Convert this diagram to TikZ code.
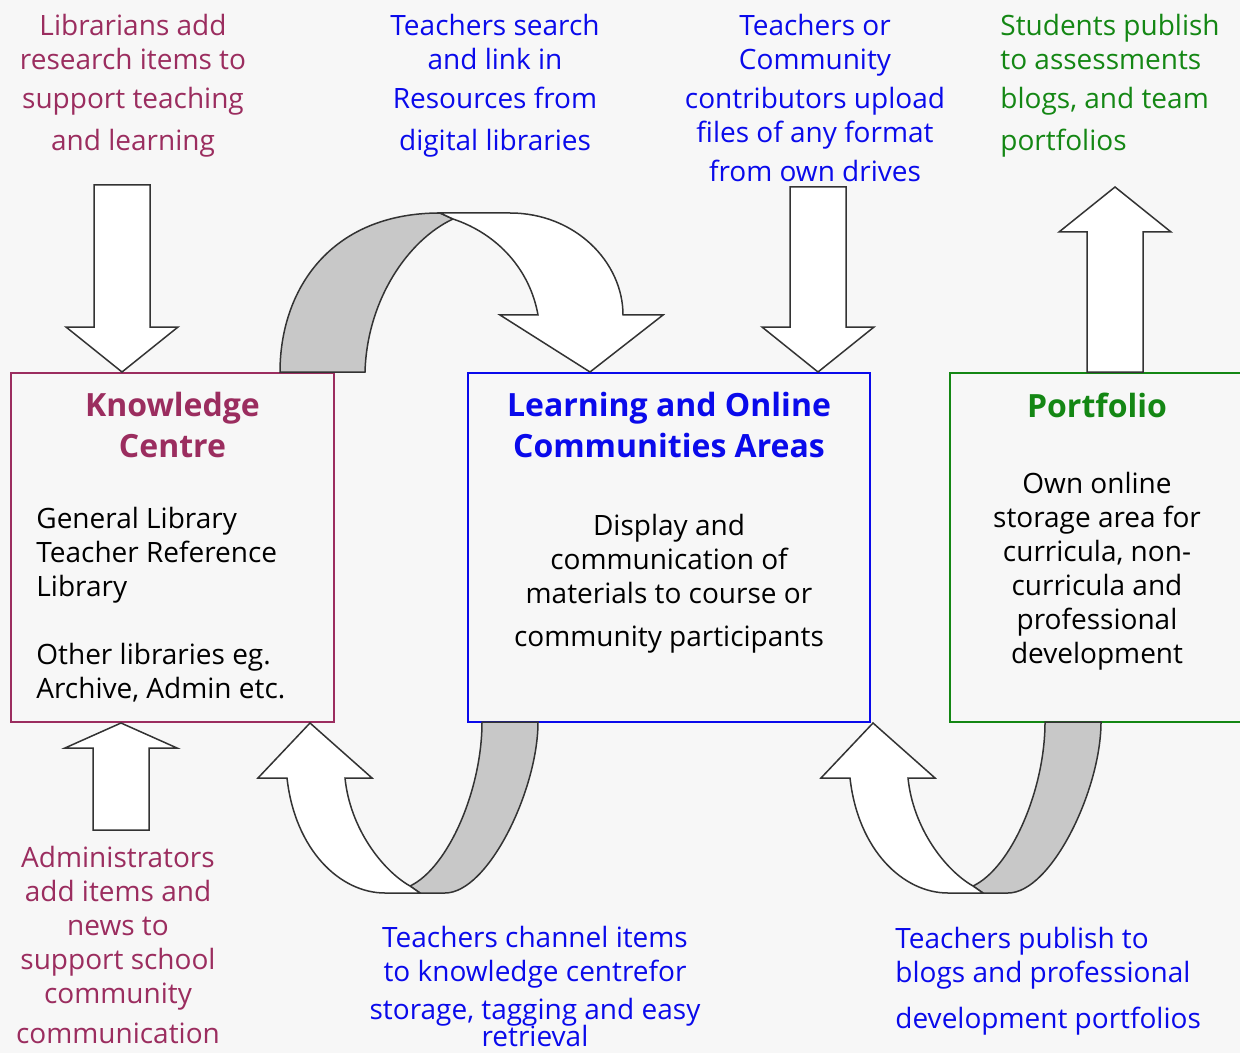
\documentclass[tikz,border=0pt]{standalone}
\usepackage{fontspec}
\setmainfont{Open Sans}
\usepackage{xcolor}
\usetikzlibrary{positioning}

\definecolor{kcmaroon}{RGB}{155,45,95}
\definecolor{areablue}{RGB}{10,10,235}
\definecolor{portgreen}{RGB}{20,135,20}
\definecolor{pagegrey}{RGB}{247,247,247}
\definecolor{bandgrey}{RGB}{200,200,200}

% straight block arrow: tip x, tip y, head base y, tail y
\newcommand{\blockarrow}[4]{%
  \draw[hollow] (#1,#2) -- (#1+56,#3) -- (#1+28,#3) -- (#1+28,#4) -- (#1-28,#4) -- (#1-28,#3) -- (#1-56,#3) -- cycle;}

\begin{document}
\begin{tikzpicture}[x=0.5pt, y=-0.5pt,
    area/.style={rectangle, draw, line width=0.8pt, fill=pagegrey, minimum height=174.5pt},
    title/.style={font=\bfseries\fontsize{16}{20.5}\selectfont, align=center, inner sep=0pt},
    body/.style={font=\fontsize{14}{17}\selectfont, inner sep=0pt},
    hollow/.style={draw=black!80, line width=0.75pt, fill=white, line join=miter},
    backface/.style={draw=black!80, line width=0.75pt, fill=bandgrey},
    returnarc/.pic={
        \draw[backface] (482,722) .. controls (482,790) and (448,868) .. (410,886) -- (420,893) -- (445,893) .. controls (488,893) and (538,790) .. (538,722) -- cycle;
        \draw[hollow] (410,886) .. controls (382,870) and (350,828) .. (345,778) -- (372,778) -- (310,723) -- (258,778) -- (287,778) .. controls (295,850) and (340,893) .. (385,893) -- (420,893) -- cycle;
    }]
    \path[use as bounding box, fill=pagegrey] (0,0) rectangle (1240,1053);

    % The three areas
    \node[area, draw=kcmaroon, minimum width=161.5pt] (kc) at (172.5,547.5) {};
    \node[area, draw=areablue, minimum width=201pt] (loc) at (669,547.5) {};
    \node[area, draw=portgreen, minimum width=150pt] (port) at (1100,547.5) {};

    \node[title, text=kcmaroon, below=10pt of kc.north] (kctitle) {Knowledge\\Centre};
    \node[title, text=areablue, below=10pt of loc.north] (loctitle) {Learning and Online\\Communities Areas};
    \node[title, text=portgreen, below=10pt of port.north, xshift=-1.5pt] (porttitle) {Portfolio};

    \node[body, anchor=north west, align=left] (kclist) at (36,507) {General Library\\Teacher Reference\\Library\\[17pt]Other libraries eg.\\Archive, Admin etc.};
    \node[body, anchor=north, align=center] (locnote) at (669,514) {Display and\\communication of\\materials to course or\\[4.5pt]community participants};
    \node[body, anchor=north, align=center] (portnote) at (1097,472) {Own online\\storage area for\\curricula, non-\\curricula and\\professional\\development};

    % Straight arrows in and out
    \blockarrow{122}{372}{327}{185}
    \blockarrow{121}{723}{748}{830}
    \blockarrow{818}{372}{327}{187}
    \blockarrow{1115}{187}{232}{372}

    % Curved arrows between areas
    \draw[backface] (280,372) .. controls (280,290) and (330,213) .. (440,213) -- (453,219) .. controls (408,240) and (367,300) .. (365,372) -- cycle;
    \draw[hollow] (440,213) -- (510,213) .. controls (575,213) and (623,262) .. (623,315) -- (663,315) -- (590,372) -- (500,315) -- (538,315) .. controls (530,270) and (498,234) .. (453,219) -- cycle;
    \pic at (0,0) {returnarc};
    \pic at (563,0) {returnarc};

    % Who does what
    \node[body, text=kcmaroon, align=center, anchor=north] (librarians) at (133,14) {Librarians add\\research items to\\[2.5pt]support teaching\\[4pt]and learning};
    \node[body, text=areablue, align=center, anchor=north] (search) at (495,14) {Teachers search\\and link in\\[2.5pt]Resources from\\[4pt]digital libraries};
    \node[body, text=areablue, align=center, anchor=north] (upload) at (815,14) {Teachers or\\Community\\[2.5pt]contributors upload\\files of any format\\[2.5pt]from own drives};
    \node[body, text=portgreen, align=left, anchor=north west] (students) at (1000,14) {Students publish\\to assessments\\[2.5pt]blogs, and team\\[4pt]portfolios};
    \node[body, text=kcmaroon, align=center, anchor=north] (admins) at (118,846) {Administrators\\add items and\\news to\\support school\\community\\[3pt]communication};
    \node[body, text=areablue, align=center, anchor=north] (channel) at (535,926) {Teachers channel items\\to knowledge centrefor\\[2pt]storage, tagging and easy\\[-3.5pt]retrieval};
    \node[body, text=areablue, align=left, anchor=north west] (publish) at (895,927) {Teachers publish to\\blogs and professional\\[6pt]development portfolios};
\end{tikzpicture}
\end{document}
